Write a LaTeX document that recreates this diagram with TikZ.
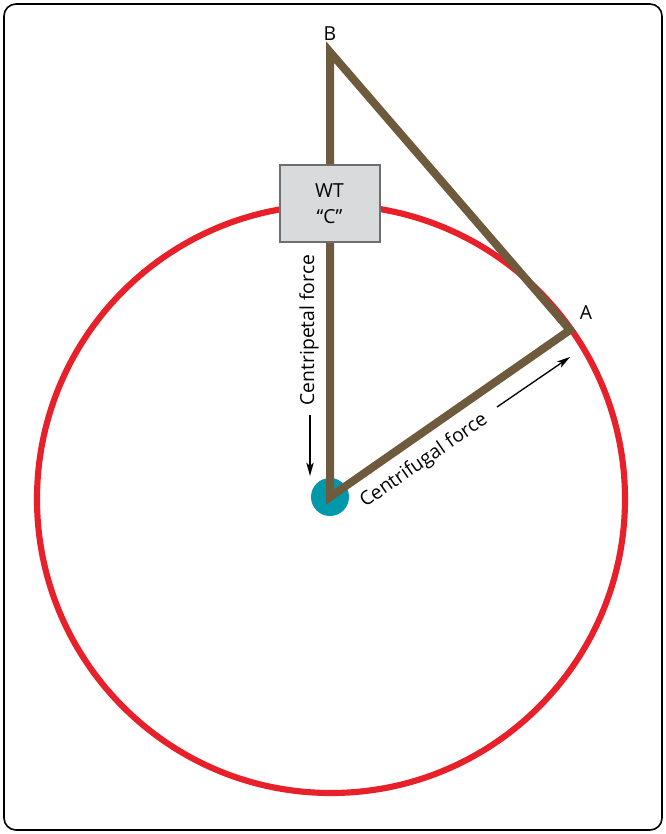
\documentclass[tikz,border=0pt]{standalone}
\usepackage{fontspec}
\setmainfont{Open Sans}
\usetikzlibrary{arrows.meta}
\definecolor{rimred}{HTML}{E8202A}
\definecolor{armbrown}{HTML}{6E5A3C}
\definecolor{hubteal}{HTML}{0099AC}
\definecolor{boxgray}{HTML}{D9DADC}
\definecolor{boxline}{HTML}{6D6E70}
\tikzset{
  arm/.style={armbrown, line width=6pt, miter limit=20},
  lbl/.style={font=\fontsize{14.5}{17}\selectfont, inner sep=0pt},
  force/.style={-{Stealth[length=10pt, width=5.5pt, inset=2.5pt]}, line width=1pt}
}
\begin{document}
\begin{tikzpicture}[x=0.75pt, y=-0.75pt]
			\useasboundingbox (0,0) rectangle (666,834);
			\def\R{294}
			\draw [line width=1.2pt, rounded corners=9pt] (4,4) rectangle (662,830);
			\coordinate (O) at (331,499);
			\draw [rimred, line width=4.6pt] (O) circle (\R);
			\fill [hubteal] (330,497) circle (19);
			\coordinate (B) at (330,52);
			\coordinate (A) at (570,330);
			\draw [arm] (330,497) -- (B) -- (A) -- cycle;
			\node [draw=boxline, line width=1.5pt, fill=boxgray, minimum width=75pt, minimum height=57pt,
				align=center, font=\fontsize{14.5}{19.5}\selectfont] (wt) at (329.5,203.5) {WT\\“C”};
			\node [lbl] (labB) at (330,34) {B};
			\node [lbl] (labA) at (586,313) {A};
			\node [lbl, rotate=90] (cpt) at (309,330) {Centripetal force};
			\coordinate (cptTail) at (310,415);
			\coordinate (cptHead) at (310,476);
			\draw [force] (cptTail) -- (cptHead);
			\node [lbl, rotate=34.8] (cfg) at (424,461) {Centrifugal force};
			\coordinate (cfgTail) at (497,407);
			\coordinate (cfgHead) at (570,357);
			\draw [force] (cfgTail) -- (cfgHead);
		\end{tikzpicture}
\end{document}
